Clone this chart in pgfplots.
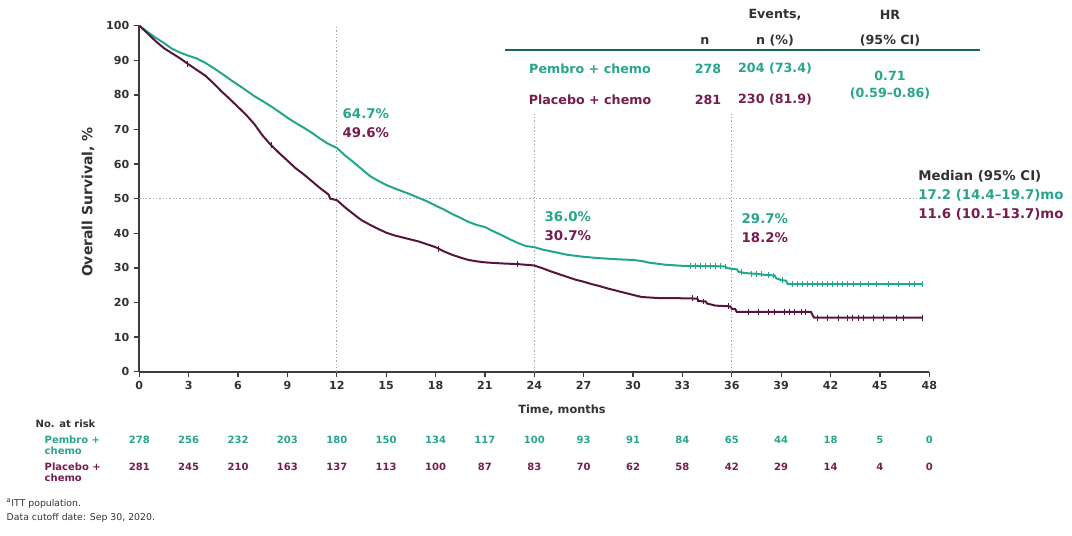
\documentclass[border=0pt]{standalone}
\usepackage{pgfplots}
\pgfplotsset{compat=1.18}
\usepackage{fontspec}
\setmainfont{DejaVu Sans}
\definecolor{tealc}{RGB}{34,166,140}
\definecolor{tealt}{RGB}{40,165,140}
\definecolor{plum}{RGB}{88,20,58}
\definecolor{plumt}{RGB}{120,28,80}
\definecolor{rulec}{RGB}{22,105,90}
\definecolor{axgray}{RGB}{60,60,60}
\definecolor{txtgray}{RGB}{50,50,50}
\begin{document}
\begin{tikzpicture}
\useasboundingbox (0pt,0pt) rectangle (804pt,-402pt);
\begin{axis}[
  at={(104.475pt,-278.775pt)}, anchor=south west,
  scale only axis, width=592.5pt, height=259.5pt,
  xmin=0, xmax=48, ymin=0, ymax=100,
  xtick={0,3,...,48}, ytick={0,10,...,100},
  axis x line*=bottom, axis y line*=left,
  axis line style={axgray, line width=1.4pt},
  tick align=outside, major tick length=4pt,
  tick style={axgray, line width=1pt},
  ticklabel style={font=\bfseries\fontsize{8.3}{9}\selectfont, text=txtgray},
  /pgf/number format/assume math mode=true,
  clip=false,
]
% reference dotted lines
\draw[gray!70, line width=1pt, dash pattern=on 1pt off 1.5pt] (axis cs:0,50) -- (axis cs:48,50);
\draw[gray!70, line width=1pt, dash pattern=on 1pt off 1.5pt] (axis cs:12,0) -- (axis cs:12,100);
\draw[gray!70, line width=1pt, dash pattern=on 1pt off 1.5pt] (axis cs:24,0) -- (axis cs:24,75);
\draw[gray!70, line width=1pt, dash pattern=on 1pt off 1.5pt] (axis cs:36,0) -- (axis cs:36,75);

% Pembro + chemo
\addplot[tealc, line width=1.5pt] coordinates {
(0,100) (0.5,98.2) (1.0,96.5) (1.5,95) (2.0,93.3) (2.5,92.2) (3.0,91.3) (3.5,90.5)
(4.0,89.3) (4.5,87.8) (5.0,86.2) (5.5,84.5) (6.0,82.9) (6.5,81.3) (7.0,79.6) (7.5,78.2)
(8.0,76.7) (8.5,75.1) (9.0,73.4) (9.5,71.9) (10.0,70.5) (10.5,69) (11.0,67.3) (11.5,65.8)
(12.0,64.7) (12.5,62.5) (13.0,60.6) (13.5,58.6) (14.0,56.6) (14.5,55.2) (15.0,54) (15.5,53)
(16.0,52.1) (16.5,51.2) (17.0,50.2) (17.2,49.8) (17.5,49.2) (18.0,48) (18.5,46.9) (19.0,45.6)
(19.5,44.5) (20.0,43.3) (20.5,42.4) (21.0,41.8) (21.5,40.6) (22.0,39.5) (22.5,38.3) (23.0,37.2)
(23.5,36.3) (24.0,36.0) (24.5,35.3) (25.0,34.8) (25.5,34.3) (26.0,33.8) (26.5,33.5) (27.0,33.2)
(28.0,32.8) (29.0,32.5) (30.0,32.3) (30.5,32.0) (31.0,31.5) (31.5,31.2) (32.0,30.9) (33.0,30.6)
(35.0,30.5) (35.6,30.4) (35.7,30.0) (36.0,29.7) (36.3,29.6) (36.4,28.9) (36.8,28.5) (37.5,28.3) (38.0,28.0) (38.6,27.8)
(38.7,27.0) (39.0,26.5) (39.3,26.3) (39.4,25.3) (47.6,25.3)
};
\addplot[only marks, mark=|, mark size=2.2pt, tealc, mark options={line width=0.6pt}] coordinates {
(33.5,30.6) (33.8,30.6) (34.1,30.6) (34.4,30.6) (34.7,30.6) (35.0,30.5) (35.3,30.5) (35.6,30.4)
(36.6,28.7) (37.2,28.3) (37.5,28.3) (37.8,28.2) (38.2,28.0) (38.5,27.8) (39.1,26.5)
(39.7,25.3) (40.0,25.3) (40.3,25.3) (40.6,25.3) (40.9,25.3) (41.2,25.3) (41.5,25.3) (41.8,25.3)
(42.1,25.3) (42.4,25.3) (42.7,25.3) (43.0,25.3) (43.4,25.3) (43.8,25.3) (44.3,25.3) (44.8,25.3)
(45.5,25.3) (46.1,25.3) (46.8,25.3) (47.1,25.3) (47.6,25.3)
};
% Placebo + chemo
\addplot[plum, line width=1.5pt] coordinates {
(0,100) (0.5,97.8) (1.0,95.5) (1.5,93.5) (2.0,92) (2.5,90.5) (3.0,88.8) (3.5,87.2)
(4.0,85.6) (4.5,83.4) (5.0,81.0) (5.5,78.8) (6.0,76.5) (6.5,74.2) (7.0,71.5) (7.5,68.2)
(8.0,65.5) (8.5,63.2) (9.0,61) (9.5,58.8) (10.0,57) (10.5,55) (11.0,53) (11.5,51.2)
(11.6,50) (12.0,49.6) (12.5,47.5) (13.0,45.6) (13.5,43.8) (14.0,42.5) (14.5,41.3) (15.0,40.2)
(15.5,39.4) (16.0,38.8) (16.5,38.2) (17.0,37.6) (17.5,36.8) (18.0,36.0) (18.5,34.8) (19.0,33.8)
(19.5,33) (20.0,32.3) (20.5,31.9) (21.0,31.6) (22.0,31.3) (23.0,31.1) (24.0,30.7) (24.5,29.9)
(25.0,29) (25.5,28.2) (26.0,27.4) (26.5,26.6) (27.0,26) (27.5,25.3) (28.0,24.7) (28.5,24.0)
(29.0,23.4) (29.5,22.8) (30.0,22.2) (30.5,21.6) (31.5,21.3) (33.5,21.2) (33.9,21.1) (34.0,20.4) (34.4,20.3) (34.5,19.7)
(35.0,19.1) (35.9,18.9) (36.0,18.2) (36.2,18.1) (36.3,17.3) (40.8,17.3) (41.0,15.6) (47.6,15.6)
};
\addplot[only marks, mark=|, mark size=2.2pt, plum, mark options={line width=0.6pt}] coordinates {
(2.9,89) (8.0,65.5) (18.2,35.5) (23.0,31.1)
(33.6,21.2) (33.9,21.1) (34.3,20.3) (35.8,18.9)
(37.0,17.3) (37.6,17.3) (38.2,17.3) (38.6,17.3) (39.2,17.3) (39.5,17.3) (39.8,17.3) (40.2,17.3) (40.5,17.3)
(41.2,15.6) (41.8,15.6) (42.5,15.6) (43.0,15.6) (43.3,15.6) (43.7,15.6) (44.0,15.6) (44.6,15.6)
(45.2,15.6) (46.0,15.6) (46.4,15.6) (47.6,15.6)
};

% numbers at risk
\begin{scope}[font=\bfseries\fontsize{7.5}{9}\selectfont]
\node[tealt] at (axis cs:0,-19.8) {278};
\node[tealt] at (axis cs:3,-19.8) {256};
\node[tealt] at (axis cs:6,-19.8) {232};
\node[tealt] at (axis cs:9,-19.8) {203};
\node[tealt] at (axis cs:12,-19.8) {180};
\node[tealt] at (axis cs:15,-19.8) {150};
\node[tealt] at (axis cs:18,-19.8) {134};
\node[tealt] at (axis cs:21,-19.8) {117};
\node[tealt] at (axis cs:24,-19.8) {100};
\node[tealt] at (axis cs:27,-19.8) {93};
\node[tealt] at (axis cs:30,-19.8) {91};
\node[tealt] at (axis cs:33,-19.8) {84};
\node[tealt] at (axis cs:36,-19.8) {65};
\node[tealt] at (axis cs:39,-19.8) {44};
\node[tealt] at (axis cs:42,-19.8) {18};
\node[tealt] at (axis cs:45,-19.8) {5};
\node[tealt] at (axis cs:48,-19.8) {0};
\node[plumt] at (axis cs:0,-27.6) {281};
\node[plumt] at (axis cs:3,-27.6) {245};
\node[plumt] at (axis cs:6,-27.6) {210};
\node[plumt] at (axis cs:9,-27.6) {163};
\node[plumt] at (axis cs:12,-27.6) {137};
\node[plumt] at (axis cs:15,-27.6) {113};
\node[plumt] at (axis cs:18,-27.6) {100};
\node[plumt] at (axis cs:21,-27.6) {87};
\node[plumt] at (axis cs:24,-27.6) {83};
\node[plumt] at (axis cs:27,-27.6) {70};
\node[plumt] at (axis cs:30,-27.6) {62};
\node[plumt] at (axis cs:33,-27.6) {58};
\node[plumt] at (axis cs:36,-27.6) {42};
\node[plumt] at (axis cs:39,-27.6) {29};
\node[plumt] at (axis cs:42,-27.6) {14};
\node[plumt] at (axis cs:45,-27.6) {4};
\node[plumt] at (axis cs:48,-27.6) {0};
\end{scope}
\end{axis}

% text in pixel coordinates (1 px = 0.75 pt, y downward)
\begin{scope}[x=0.75pt, y=-0.75pt]
\node[rotate=90, text=txtgray, font=\bfseries\fontsize{10.5}{12}\selectfont] at (88,202) {Overall Survival, \%};
\node[text=txtgray, font=\bfseries\fontsize{8.5}{10}\selectfont] at (562,410) {Time, months};
\node[text=txtgray, font=\bfseries\fontsize{7.5}{9}\selectfont, anchor=west] at (31,424) {No. at risk};
\node[text=tealt, font=\bfseries\fontsize{7.5}{8.5}\selectfont, anchor=west, align=left] at (40,445) {Pembro +\\chemo};
\node[text=plumt, font=\bfseries\fontsize{7.5}{8.5}\selectfont, anchor=west, align=left] at (40,472) {Placebo +\\chemo};
\node[text=txtgray, font=\fontsize{7}{8}\selectfont, anchor=west] at (2,504) {\textsuperscript{a}ITT population.};
\node[text=txtgray, font=\fontsize{7}{8}\selectfont, anchor=west] at (2,518) {Data cutoff date: Sep 30, 2020.};

% table
\draw[rulec, line width=2pt] (505,50) -- (980,50);
\begin{scope}[font=\bfseries\fontsize{9.5}{11}\selectfont]
\node[text=txtgray] at (705,41) {n};
\node[text=txtgray] at (775,15) {Events,};
\node[text=txtgray] at (775,41) {n (\%)};
\node[text=txtgray] at (890,15) {HR};
\node[text=txtgray] at (890,41) {(95\% CI)};
\node[text=tealt] at (590,69) {Pembro + chemo};
\node[text=tealt] at (708,69) {278};
\node[text=tealt] at (775,69) {204 (73.4)};
\node[text=plumt] at (590,100) {Placebo + chemo};
\node[text=plumt] at (708,100) {281};
\node[text=plumt] at (775,100) {230 (81.9)};
\node[text=tealt] at (890,76) {0.71};
\node[text=tealt] at (890,94) {(0.59--0.86)};
\end{scope}
\begin{scope}[font=\bfseries\fontsize{10}{12}\selectfont]
% landmark annotations
\node[text=tealt, anchor=west] at (338,114) {64.7\%};
\node[text=plumt, anchor=west] at (338,133) {49.6\%};
\node[text=tealt, anchor=west] at (540,217) {36.0\%};
\node[text=plumt, anchor=west] at (540,236) {30.7\%};
\node[text=tealt, anchor=west] at (737,219) {29.7\%};
\node[text=plumt, anchor=west] at (737,238) {18.2\%};
% median
\node[text=txtgray, anchor=west, inner sep=0pt] at (918,176) {Median (95\% CI)};
\node[text=tealt, anchor=west, inner sep=0pt] at (918,195) {17.2 (14.4--19.7)mo};
\node[text=plumt, anchor=west, inner sep=0pt] at (918,214) {11.6 (10.1--13.7)mo};
\end{scope}
\end{scope}
\end{tikzpicture}
\end{document}
